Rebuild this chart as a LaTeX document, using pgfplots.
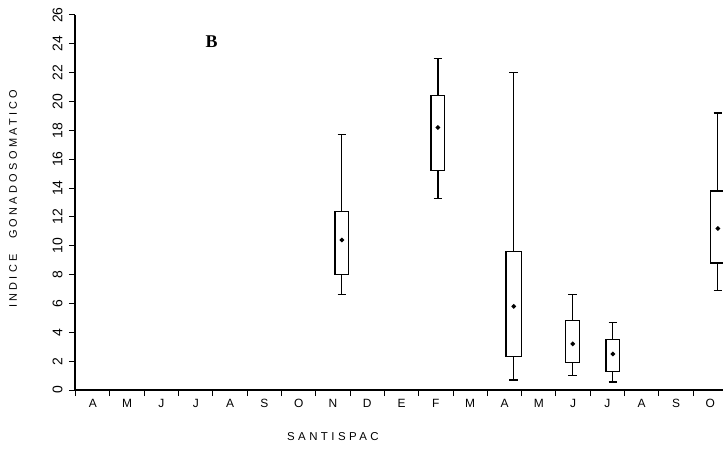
\documentclass[border=0pt]{standalone}
\usepackage{fontspec}
\setmainfont{Liberation Sans}
\usepackage{pgfplots}
\pgfplotsset{compat=1.18}
\usepgfplotslibrary{statistics}
\newfontfamily\spaced[LetterSpace=30]{Liberation Sans}
\newfontfamily\serifB{Liberation Serif}
\begin{document}
\begin{tikzpicture}
\path[use as bounding box] (-75bp,-66bp) rectangle (648bp,390bp);
\begin{axis}[
  at={(0,0)}, anchor=south west,
  scale only axis, width=648bp, height=375bp,
  xmin=-0.52, xmax=18.37, ymin=0, ymax=26,
  axis x line*=bottom, axis y line*=left,
  axis line style={line width=1.4bp},
  tick align=outside,
  major tick length=6bp,
  tick style={line width=1bp, black},
  xtick={-0.5,0.5,...,17.5}, xticklabels={},
  extra x ticks={0,...,18},
  extra x tick labels={A,M,J,J,A,S,O,N,D,E,F,M,A,M,J,J,A,S,O},
  extra x tick style={major tick length=0pt, tick label style={yshift=-6bp}},
  ytick={0,2,...,26},
  /pgf/number format/assume math mode=true,
  x tick label style={font=\fontsize{12}{12}\selectfont},
  y tick label style={rotate=90, anchor=south, font=\fontsize{14}{14}\selectfont},
  yticklabel shift=3bp,
  ylabel={\spaced INDICE\hspace{1.4em}GONADOSOMATICO},
  ylabel style={at={(axis description cs:-0.0957,0.51)}, anchor=center, font=\fontsize{11}{11}\selectfont},
  xlabel={\spaced SANTISPAC},
  xlabel style={at={(axis description cs:0.398,-0.125)}, anchor=center, font=\fontsize{11.5}{11.5}\selectfont},
  boxplot/draw direction=y,
  boxplot/draw/median/.code={\fill (boxplot box cs:\pgfplotsboxplotvalue{median},0.5) circle[radius=1.6bp];},
]
\addplot[black, line width=1.2bp, boxplot prepared={draw position=7.26, lower whisker=6.6, lower quartile=8.0, median=10.4, upper quartile=12.4, upper whisker=17.7, box extend=0.4, whisker extend=0.25}] coordinates {};
\addplot[black, line width=1.2bp, boxplot prepared={draw position=10.06, lower whisker=13.3, lower quartile=15.2, median=18.2, upper quartile=20.4, upper whisker=23.0, box extend=0.4, whisker extend=0.25}] coordinates {};
\addplot[black, line width=1.2bp, boxplot prepared={draw position=12.27, lower whisker=0.7, lower quartile=2.3, median=5.8, upper quartile=9.6, upper whisker=22.0, box extend=0.45, whisker extend=0.25}] coordinates {};
\addplot[black, line width=1.2bp, boxplot prepared={draw position=13.99, lower whisker=1.0, lower quartile=1.9, median=3.2, upper quartile=4.8, upper whisker=6.6, box extend=0.4, whisker extend=0.25}] coordinates {};
\addplot[black, line width=1.2bp, boxplot prepared={draw position=15.16, lower whisker=0.55, lower quartile=1.3, median=2.5, upper quartile=3.5, upper whisker=4.7, box extend=0.4, whisker extend=0.25}] coordinates {};
\addplot[black, line width=1.2bp, boxplot prepared={draw position=18.22, lower whisker=6.9, lower quartile=8.8, median=11.2, upper quartile=13.8, upper whisker=19.2, box extend=0.45, whisker extend=0.25}] coordinates {};
\node[font=\serifB\bfseries\fontsize{18}{18}\selectfont] at (axis description cs:0.211,0.928) {B};
\end{axis}
\end{tikzpicture}
\end{document}
